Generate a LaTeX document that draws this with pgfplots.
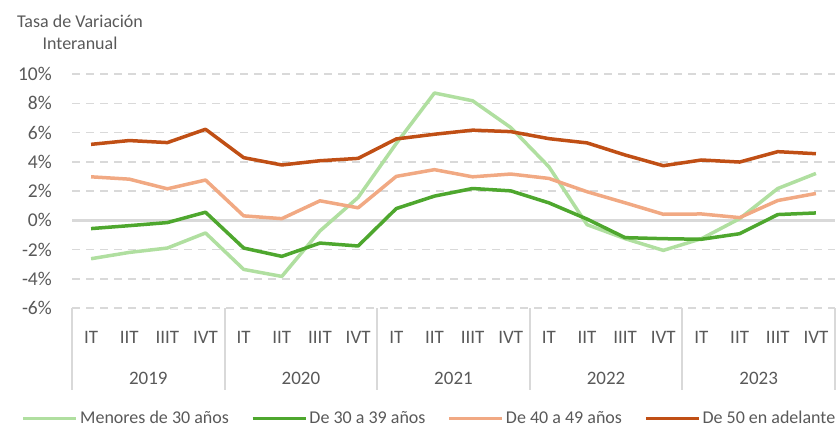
\documentclass[border=0pt]{standalone}
\usepackage{fontspec}
\setmainfont{Carlito}
\usepackage{pgfplots}
\pgfplotsset{compat=1.18}
\definecolor{lgreen}{HTML}{B0DFA0}
\definecolor{dgreen}{HTML}{4EA72E}
\definecolor{salmon}{HTML}{F1A983}
\definecolor{dorange}{HTML}{C04F15}
\definecolor{gridgray}{HTML}{D9D9D9}
\definecolor{txtgray}{HTML}{595959}
\begin{document}
\begin{tikzpicture}[x=1pt,y=1pt]
\useasboundingbox (0,0) rectangle (837,429);
\node[align=center, text=txtgray, font=\fontsize{18}{22}\selectfont] at (80,397) {Tasa de Variación\\Interanual};
\begin{axis}[
  at={(72pt,121pt)}, anchor=south west,
  scale only axis, width=763pt, height=234pt,
  xmin=-0.5, xmax=19.5, ymin=-6, ymax=10,
  clip=false,
  axis line style={draw=none},
  major tick length=0pt,
  ytick={-6,-4,-2,0,2,4,6,8,10},
  yticklabels={-6\%,-4\%,-2\%,0\%,2\%,4\%,6\%,8\%,10\%},
  yticklabel style={anchor=east, inner sep=0pt, xshift=-20pt, text=txtgray, font=\fontsize{19.5}{22}\selectfont},
  xtick={0,...,19},
  xticklabels={IT,IIT,IIIT,IVT,IT,IIT,IIIT,IVT,IT,IIT,IIIT,IVT,IT,IIT,IIIT,IVT,IT,IIT,IIIT,IVT},
  xticklabel style={anchor=center, inner sep=0pt, yshift=-29pt, text=txtgray, font=\fontsize{19}{22}\selectfont},
  ymajorgrids,
  major grid style={gridgray, line width=1.5pt, dash pattern=on 8pt off 6pt},
  legend columns=4,
  legend style={at={(0.4685,-0.472)}, anchor=center, draw=none, fill=none,
    font=\fontsize{18}{22}\selectfont, text=txtgray,
    /tikz/every even column/.append style={column sep=20pt}},
  legend image code/.code={\draw[#1] (0pt,0pt) -- (53pt,0pt);},
  every axis plot/.append style={line width=3.5pt, line join=round},
]
\draw[gridgray, line width=2.5pt] (axis cs:-0.5,0) -- (axis cs:19.5,0);
\pgfplotsinvokeforeach{-0.5,3.5,7.5,11.5,15.5,19.5}{
  \draw[gridgray, line width=2pt] (axis cs:#1,-6) -- ([yshift=-82pt]axis cs:#1,-6);
}
\node[text=txtgray, font=\fontsize{19}{22}\selectfont] at (axis cs:1.5,-6) [yshift=-70pt] {2019};
\node[text=txtgray, font=\fontsize{19}{22}\selectfont] at (axis cs:5.5,-6) [yshift=-70pt] {2020};
\node[text=txtgray, font=\fontsize{19}{22}\selectfont] at (axis cs:9.5,-6) [yshift=-70pt] {2021};
\node[text=txtgray, font=\fontsize{19}{22}\selectfont] at (axis cs:13.5,-6) [yshift=-70pt] {2022};
\node[text=txtgray, font=\fontsize{19}{22}\selectfont] at (axis cs:17.5,-6) [yshift=-70pt] {2023};
\addplot[lgreen] coordinates {(0,-2.63) (1,-2.2) (2,-1.9) (3,-0.87) (4,-3.36) (5,-3.84) (6,-0.73) (7,1.56) (8,5.25) (9,8.7) (10,8.17) (11,6.34) (12,3.66) (13,-0.3) (14,-1.26) (15,-2.06) (16,-1.26) (17,0.11) (18,2.17) (19,3.2)};
\addlegendentry{Menores de 30 años}
\addplot[dgreen] coordinates {(0,-0.57) (1,-0.37) (2,-0.16) (3,0.55) (4,-1.9) (5,-2.47) (6,-1.56) (7,-1.76) (8,0.8) (9,1.65) (10,2.17) (11,2.01) (12,1.19) (13,0.08) (14,-1.19) (15,-1.26) (16,-1.3) (17,-0.92) (18,0.39) (19,0.5)};
\addlegendentry{De 30 a 39 años}
\addplot[salmon] coordinates {(0,2.97) (1,2.81) (2,2.15) (3,2.75) (4,0.3) (5,0.11) (6,1.33) (7,0.85) (8,3.0) (9,3.46) (10,2.97) (11,3.16) (12,2.86) (13,1.95) (14,1.19) (15,0.41) (16,0.43) (17,0.18) (18,1.35) (19,1.83)};
\addlegendentry{De 40 a 49 años}
\addplot[dorange] coordinates {(0,5.19) (1,5.45) (2,5.31) (3,6.22) (4,4.28) (5,3.78) (6,4.07) (7,4.23) (8,5.56) (9,5.88) (10,6.16) (11,6.06) (12,5.58) (13,5.29) (14,4.46) (15,3.73) (16,4.12) (17,3.98) (18,4.69) (19,4.55)};
\addlegendentry{De 50 en adelante}
\end{axis}
\end{tikzpicture}
\end{document}
